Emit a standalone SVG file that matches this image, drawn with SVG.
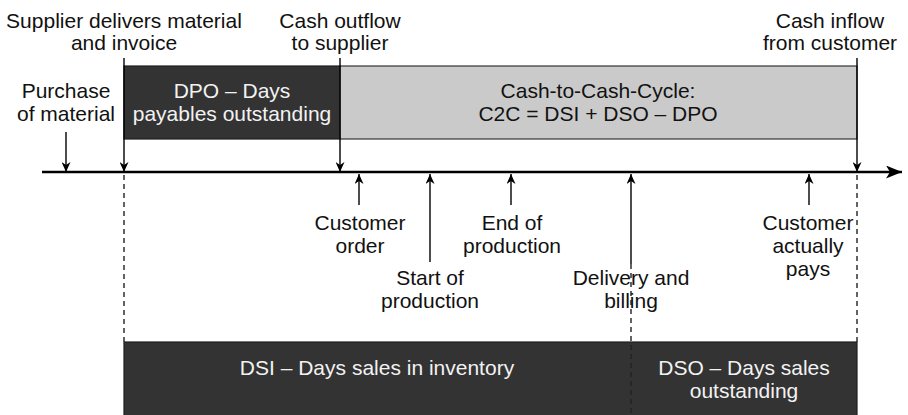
<svg xmlns="http://www.w3.org/2000/svg" width="908" height="415" viewBox="0 0 908 415">
<style>
text{font-family:"Liberation Sans",Arial,Helvetica,sans-serif;font-size:21px;text-anchor:middle;fill:#111}
.lt{fill:#f2f2f2}
.dark{fill:#333333;stroke:#1e1e1e;stroke-width:1.2}
.gray{fill:#cacaca;stroke:#333;stroke-width:1.2}
.arr{stroke:#000;stroke-width:1.4;fill:none;marker-end:url(#ah)}
.dash{stroke:#222;stroke-width:1.4;stroke-dasharray:5 4;fill:none}
</style>
<defs>
<marker id="ah" viewBox="0 0 10 10" refX="10" refY="5" markerWidth="10" markerHeight="9" markerUnits="userSpaceOnUse" orient="auto" preserveAspectRatio="none">
<path d="M0,0 L10,5 L0,10 L3,5 z" fill="#000"/>
</marker>
<marker id="big" viewBox="0 0 10 10" refX="10" refY="5" markerWidth="16" markerHeight="13" markerUnits="userSpaceOnUse" orient="auto" preserveAspectRatio="none">
<path d="M0,0 L10,5 L0,10 L2.5,5 z" fill="#000"/>
</marker>
</defs>
<g id="periods">
<g id="dpo"><rect class="dark" x="124" y="66" width="216" height="73"/>
<text class="lt" x="232" y="98">DPO – Days</text><text class="lt" x="232" y="121">payables outstanding</text></g>
<g id="c2c"><rect class="gray" x="340" y="66" width="517" height="73"/>
<text x="598" y="98">Cash-to-Cash-Cycle:</text><text x="598" y="121">C2C = DSI + DSO – DPO</text></g>
<g id="dsi"><rect class="dark" x="124" y="342" width="733" height="80"/>
<text class="lt" x="377" y="375">DSI – Days sales in inventory</text></g>
<g id="dso"><text class="lt" x="744" y="375">DSO – Days sales</text><text class="lt" x="744" y="398">outstanding</text></g>
</g>
<g id="connectors">
<line x1="42" y1="172" x2="902" y2="172" stroke="#000" stroke-width="2.4" marker-end="url(#big)"/>
<line class="arr" x1="66" y1="132" x2="66" y2="172"/>
<line class="arr" x1="124" y1="58" x2="124" y2="172"/>
<line class="arr" x1="340" y1="58" x2="340" y2="172"/>
<line class="arr" x1="857" y1="58" x2="857" y2="172"/>
<line class="arr" x1="359" y1="205" x2="359" y2="174"/>
<line class="arr" x1="430" y1="262" x2="430" y2="174"/>
<line class="arr" x1="511" y1="205" x2="511" y2="174"/>
<line class="arr" x1="631" y1="264" x2="631" y2="174"/>
<line class="arr" x1="809" y1="205" x2="809" y2="174"/>
<line class="dash" x1="124" y1="175" x2="124" y2="342"/>
<line class="dash" x1="857" y1="175" x2="857" y2="342"/>
<line class="dash" x1="631" y1="264" x2="631" y2="415"/>
</g>
<g id="labels">
<g id="supplier"><text x="124" y="28">Supplier delivers material</text><text x="124" y="50">and invoice</text></g>
<g id="outflow"><text x="340" y="28">Cash outflow</text><text x="340" y="50">to supplier</text></g>
<g id="inflow"><text x="830" y="28">Cash inflow</text><text x="830" y="50">from customer</text></g>
<g id="purchase"><text x="66" y="98">Purchase</text><text x="66" y="121">of material</text></g>
<g id="order"><text x="360" y="230">Customer</text><text x="360" y="253">order</text></g>
<g id="start"><text x="430" y="285">Start of</text><text x="430" y="308">production</text></g>
<g id="end"><text x="512" y="230">End of</text><text x="512" y="253">production</text></g>
<g id="delivery"><text x="631" y="285">Delivery and</text><text x="631" y="308">billing</text></g>
<g id="pays"><text x="808" y="230">Customer</text><text x="808" y="253">actually</text><text x="808" y="276">pays</text></g>
</g>
</svg>
